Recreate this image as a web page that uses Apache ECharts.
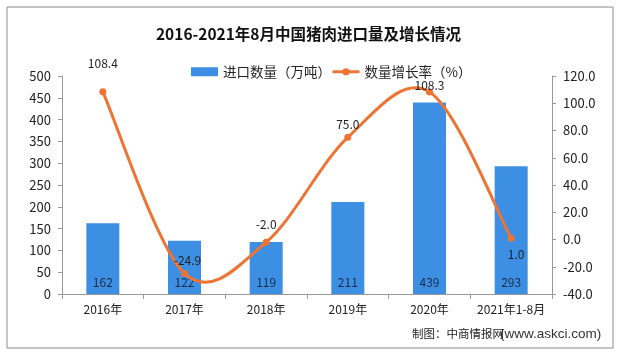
<!DOCTYPE html>
<html><head><meta charset="utf-8">
<script src="https://cdn.jsdelivr.net/npm/echarts@6/dist/echarts.min.js"></script>
<style>html,body{margin:0;padding:0;background:#fff}#c{width:617px;height:352px}</style>
</head><body><div id="c"></div>
<script>
const categories = ['2016年','2017年','2018年','2019年','2020年','2021年1-8月'];
const importVolume = [162,122,119,211,439,293];
const growthRate = [108.4,-24.9,-2.0,75.0,108.3,1.0];
const leftTicks = {min:0,max:500,interval:50};
const rightTicks = {min:-40,max:120,interval:20};

const FONT = '"Noto Sans CJK SC", sans-serif';
const ORANGE = '#EE7433';
const labelTweaks = [
  {position:'top', offset:[0,-14]},
  {position:'top', offset:[3,2]},
  {position:'top', offset:[0,-3]},
  {position:'top', offset:[0,2]},
  {position:'top', offset:[0,8]},
  {position:'bottom', offset:[5,2]}
];
// Excel-style smoothed curve (Catmull-Rom -> Bezier), positions from the axes
function renderCurve(params, api){
  if (params.dataIndex !== 0) return;
  const p = growthRate.map((v,i)=>api.coord([i,v]));
  const n = p.length;
  const P = i => p[Math.max(0,Math.min(n-1,i))];
  let d = 'M' + p[0][0] + ' ' + p[0][1];
  for (let i=0;i<n-1;i++){
    const a=P(i-1), b=P(i), c=P(i+1), e=P(i+2);
    const c1=[b[0]+(c[0]-a[0])/6, b[1]+(c[1]-a[1])/6];
    const c2=[c[0]-(e[0]-b[0])/6, c[1]-(e[1]-b[1])/6];
    d += ' C'+c1[0]+' '+c1[1]+' '+c2[0]+' '+c2[1]+' '+c[0]+' '+c[1];
  }
  return {type:'path',shape:{pathData:d},style:{fill:'none',stroke:ORANGE,lineWidth:3}};
}
const chart = echarts.init(document.getElementById('c'));
chart.setOption({
  animation:false,
  textStyle:{fontFamily:FONT},
  title:{text:'2016-2021年8月中国猪肉进口量及增长情况',left:'center',top:21,
    textStyle:{fontSize:15.5,fontWeight:'bold',color:'#111',fontFamily:FONT}},
  legend:{top:60,left:186,itemGap:0,itemWidth:27,itemHeight:9,
    textStyle:{fontSize:13.5,color:'#222'},
    data:[{name:'进口数量（万吨）',icon:'rect'},
          {name:'数量增长率（%）',lineStyle:{color:ORANGE,width:3,opacity:1}}]},
  grid:{left:62,right:65,top:76,bottom:58},
  xAxis:{type:'category',data:categories,
    axisLine:{lineStyle:{color:'#999'}},
    axisTick:{show:true,alignWithLabel:false,length:5,lineStyle:{color:'#999'}},
    axisLabel:{color:'#222',fontSize:12,margin:9,interval:0}},
  yAxis:[
    {type:'value',min:leftTicks.min,max:leftTicks.max,interval:leftTicks.interval,
      axisLine:{show:true,lineStyle:{color:'#999'}},axisTick:{show:true,length:4,lineStyle:{color:'#999'}},
      splitLine:{show:false},axisLabel:{color:'#222',fontSize:13,margin:11}},
    {type:'value',min:rightTicks.min,max:rightTicks.max,interval:rightTicks.interval,
      axisLine:{show:true,lineStyle:{color:'#999'}},axisTick:{show:true,length:4,lineStyle:{color:'#999'}},
      splitLine:{show:false},axisLabel:{color:'#222',fontSize:13,margin:11,formatter:v=>v.toFixed(1)}}
  ],
  graphic:[{type:'rect',shape:{x:7,y:7,width:606,height:341},style:{fill:'none',stroke:'#8c8c8c',lineWidth:1}},
    {type:'text',left:412,top:328,style:{text:'制图：中商情报网',fontSize:11.5,fill:'#222',fontFamily:FONT}},
    {type:'text',left:500,top:327,style:{text:'(www.askci.com)',fontSize:13.5,fill:'#333',fontFamily:'"Liberation Sans", Arial, sans-serif'}}],
  series:[
    {name:'进口数量（万吨）',type:'bar',data:importVolume,barWidth:33,z:2,
      itemStyle:{color:'#3D8FE3'},
      label:{show:true,position:'insideBottom',distance:6,color:'#1a2a44',fontSize:12}},
    {name:'curve',type:'custom',yAxisIndex:1,z:3,data:[0],renderItem:renderCurve,silent:true},
    {name:'数量增长率（%）',type:'line',yAxisIndex:1,z:4,
      data:growthRate.map((v,i)=>({value:v,label:labelTweaks[i]})),
      symbol:'circle',symbolSize:7,
      lineStyle:{color:ORANGE,width:3,opacity:0},itemStyle:{color:ORANGE},
      label:{show:true,color:'#222',fontSize:12,formatter:p=>p.value.toFixed(1)}}
  ]
});
</script></body></html>
